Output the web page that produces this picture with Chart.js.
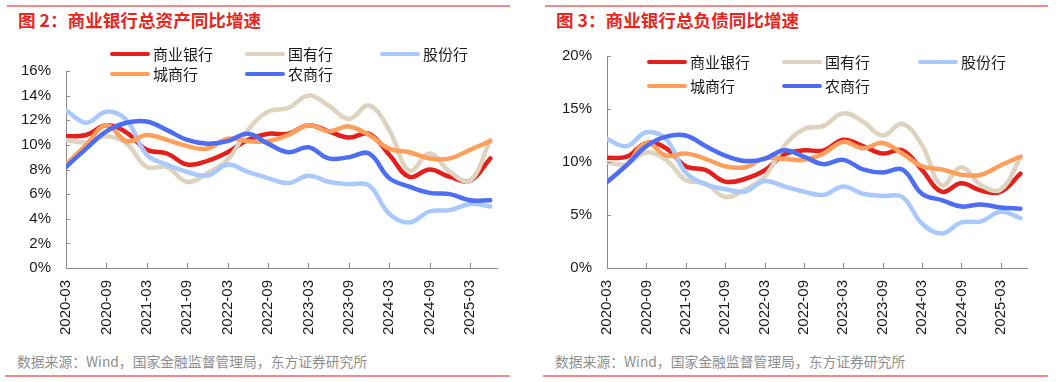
<!DOCTYPE html>
<html>
<head>
<meta charset="utf-8">
<title>商业银行总资产/总负债同比增速</title>
<script src="https://cdn.jsdelivr.net/npm/chart.js"></script>
<style>
  body { margin: 0; background: #fff; }
  #wrap { position: relative; width: 1061px; height: 382px; overflow: hidden; font-family: "Liberation Sans", "Noto Sans CJK SC", sans-serif; }
  .rule { position: absolute; height: 2px; background: #f08a8a; }
  .title { position: absolute; top: 7px; font: bold 17.6px "Noto Sans CJK SC", sans-serif; color: #e6261f; white-space: nowrap; }
  .source { position: absolute; top: 351px; font: 13.8px "Noto Sans CJK SC", sans-serif; color: #8e8e8e; white-space: nowrap; }
  canvas { position: absolute; top: 0; }
  .lg-line { position: absolute; height: 4px; border-radius: 2px; }
  .lg-text { position: absolute; font: 15px "Noto Sans CJK SC", sans-serif; color: #1a1a1a; line-height: 20px; white-space: nowrap; }
</style>
</head>
<body>
<div id="wrap">
  <div class="rule" style="left:7px;width:503px;top:5px"></div>
  <div class="rule" style="left:545px;width:503px;top:5px"></div>
  <div class="title" style="left:18px">图 2：商业银行总资产同比增速</div>
  <div class="title" style="left:556px">图 3：商业银行总负债同比增速</div>
  <canvas id="assetChart" width="530" height="345" style="left:0"></canvas>
  <canvas id="liabChart" width="531" height="345" style="left:530px"></canvas>
  <div class="source" style="left:17px">数据来源：Wind，国家金融监督管理局，东方证券研究所</div>
  <div class="source" style="left:555px">数据来源：Wind，国家金融监督管理局，东方证券研究所</div>
  <div class="rule" style="left:5px;width:505px;top:375px"></div>
  <div class="rule" style="left:543px;width:505px;top:375px"></div>
</div>

<script>
// quarterly observations, 2020-03 .. 2025-06
const quarters = ['2020-03','2020-06','2020-09','2020-12','2021-03','2021-06','2021-09','2021-12',
  '2022-03','2022-06','2022-09','2022-12','2023-03','2023-06','2023-09','2023-12',
  '2024-03','2024-06','2024-09','2024-12','2025-03','2025-06'];
const tickLabels = ['2020-03','2020-09','2021-03','2021-09','2022-03','2022-09',
  '2023-03','2023-09','2024-03','2024-09','2025-03'];
const seriesNames = ['商业银行','国有行','股份行','城商行','农商行'];
const seriesColors = ['#e3201b','#ddd3be','#a9c9fc','#ff9f5b','#4e6ef2'];

// 图2 总资产同比 (%)
const assetCommercial = [10.7,10.8,11.6,11.0,9.6,9.3,8.4,8.7,9.4,10.4,10.9,10.9,11.6,11.1,10.6,10.9,9.2,7.4,8.0,7.4,7.1,8.9];
const assetStateOwned = [10.4,10.2,10.7,10.1,8.2,8.2,7.0,7.7,8.8,11.2,12.7,13.0,14.0,13.2,12.1,13.2,11.2,7.9,9.3,7.8,7.1,10.4];
const assetJointStock = [12.8,11.8,12.7,12.0,9.2,8.4,7.8,7.5,8.4,7.8,7.3,6.9,7.5,7.0,6.8,6.7,4.4,3.7,4.6,4.7,5.2,5.0];
const assetCityComm   = [8.4,10.0,11.6,10.3,10.8,10.4,9.9,9.7,10.5,10.3,10.3,10.8,11.6,11.1,11.5,10.8,9.7,9.4,8.9,8.9,9.6,10.3];
const assetRural      = [8.2,9.7,11.1,11.8,11.9,11.2,10.4,10.1,10.3,10.9,10.1,9.4,9.8,8.9,9.0,9.3,7.3,6.6,6.1,6.0,5.5,5.5];

// 图3 总负债同比 (%)
const liabCommercial = [10.4,10.5,11.8,11.3,9.6,9.25,8.15,8.4,9.2,10.7,11.1,11.1,12.1,11.5,10.8,11.1,9.25,7.2,8.0,7.3,7.2,8.9];
const liabStateOwned = [9.95,9.8,10.9,10.2,8.3,8.0,6.7,7.4,8.6,11.5,13.1,13.4,14.6,13.8,12.5,13.6,11.6,7.8,9.5,7.8,7.4,10.4];
const liabJointStock = [12.15,11.5,12.8,12.15,9.0,7.9,7.45,7.2,8.2,7.7,7.2,6.9,7.7,7.0,6.8,6.7,4.2,3.25,4.3,4.4,5.3,4.7];
const liabCityComm   = [8.15,9.7,11.8,10.6,10.8,10.3,9.6,9.5,10.35,10.3,10.2,10.8,11.9,11.3,11.8,10.8,9.6,9.3,8.8,8.8,9.7,10.5];
const liabRural      = [8.1,9.7,11.5,12.4,12.5,11.5,10.6,10.1,10.3,11.1,10.5,9.8,10.2,9.3,9.0,9.3,7.0,6.4,5.8,6.0,5.7,5.6];

// short tick marks pointing into the plot, like the original
const innerTicks = {
  id: 'innerTicks',
  afterDraw(chart) {
    const { ctx, chartArea: a, scales: { x, y } } = chart;
    ctx.save();
    ctx.strokeStyle = '#8a8a8a';
    ctx.lineWidth = 1;
    ctx.beginPath();
    x.ticks.forEach(t => {
      const px = Math.round(x.getPixelForValue(t.value)) + 0.5;
      ctx.moveTo(px, a.bottom);
      ctx.lineTo(px, a.bottom - 5);
    });
    y.ticks.forEach(t => {
      const py = Math.round(y.getPixelForValue(t.value)) + 0.5;
      ctx.moveTo(a.left, py);
      ctx.lineTo(a.left + 4, py);
    });
    ctx.stroke();
    ctx.restore();
  }
};

function makeChart(id, series, yMax, yStep, g) {
  const canvas = document.getElementById(id);
  const datasets = series.map((vals, i) => ({
    label: seriesNames[i],
    data: vals.map((v, q) => ({ x: q * 3, y: v })),
    borderColor: seriesColors[i],
    backgroundColor: seriesColors[i],
    borderWidth: 4.5,
    borderCapStyle: 'round',
    borderJoinStyle: 'round',
    pointRadius: 0,
    tension: 0.4,
    fill: false,
    order: series.length - i
  }));
  return new Chart(canvas, {
    type: 'line',
    data: { datasets },
    plugins: [innerTicks],
    options: {
      responsive: false,
      animation: false,
      devicePixelRatio: 1,
      layout: { padding: { top: g.top, right: g.right, left: 0, bottom: 0 } },
      plugins: { legend: { display: false }, tooltip: { enabled: false } },
      scales: {
        x: {
          type: 'linear',
          min: 0,
          max: 64,
          grid: { display: false, drawTicks: false },
          border: { display: true, color: '#8a8a8a', width: 1 },
          ticks: {
            stepSize: 6,
            includeBounds: false,
            autoSkip: false,
            minRotation: 90,
            maxRotation: 90,
            padding: 12,
            color: '#1a1a1a',
            font: { family: 'Liberation Sans', size: 15 },
            callback: v => tickLabels[v / 6]
          },
          afterFit: s => { s.height = g.xHeight; }
        },
        y: {
          min: 0,
          max: yMax,
          grid: { display: false, drawTicks: false },
          border: { display: true, color: '#8a8a8a', width: 1 },
          ticks: {
            stepSize: yStep,
            padding: 15,
            color: '#1a1a1a',
            font: { family: 'Liberation Sans', size: 15 },
            callback: v => v + '%'
          },
          afterFit: s => { s.width = g.yWidth; }
        }
      }
    }
  });
}

function makeLegend(offsetX, rows, cols) {
  const wrap = document.getElementById('wrap');
  seriesNames.forEach((name, i) => {
    const r = i < 3 ? 0 : 1;
    const c = i < 3 ? i : i - 3;
    const line = document.createElement('div');
    line.className = 'lg-line';
    line.style.left = (offsetX + cols[c]) + 'px';
    line.style.width = '40px';
    line.style.top = (rows[r] - 2) + 'px';
    line.style.background = seriesColors[i];
    wrap.appendChild(line);
    const txt = document.createElement('div');
    txt.className = 'lg-text';
    txt.textContent = name;
    txt.style.left = (offsetX + cols[c] + 43) + 'px';
    txt.style.top = (rows[r] - 10) + 'px';
    wrap.appendChild(txt);
  });
}

makeChart('assetChart', [assetCommercial, assetStateOwned, assetJointStock, assetCityComm, assetRural],
  16, 2, { top: 71, right: 33, yWidth: 66, xHeight: 77 });
makeChart('liabChart', [liabCommercial, liabStateOwned, liabJointStock, liabCityComm, liabRural],
  20, 5, { top: 56, right: 34, yWidth: 77, xHeight: 77 });

makeLegend(0, [54, 74], [110, 245, 380]);
makeLegend(530, [62, 86], [117, 252, 388]);
</script>
</body>
</html>
